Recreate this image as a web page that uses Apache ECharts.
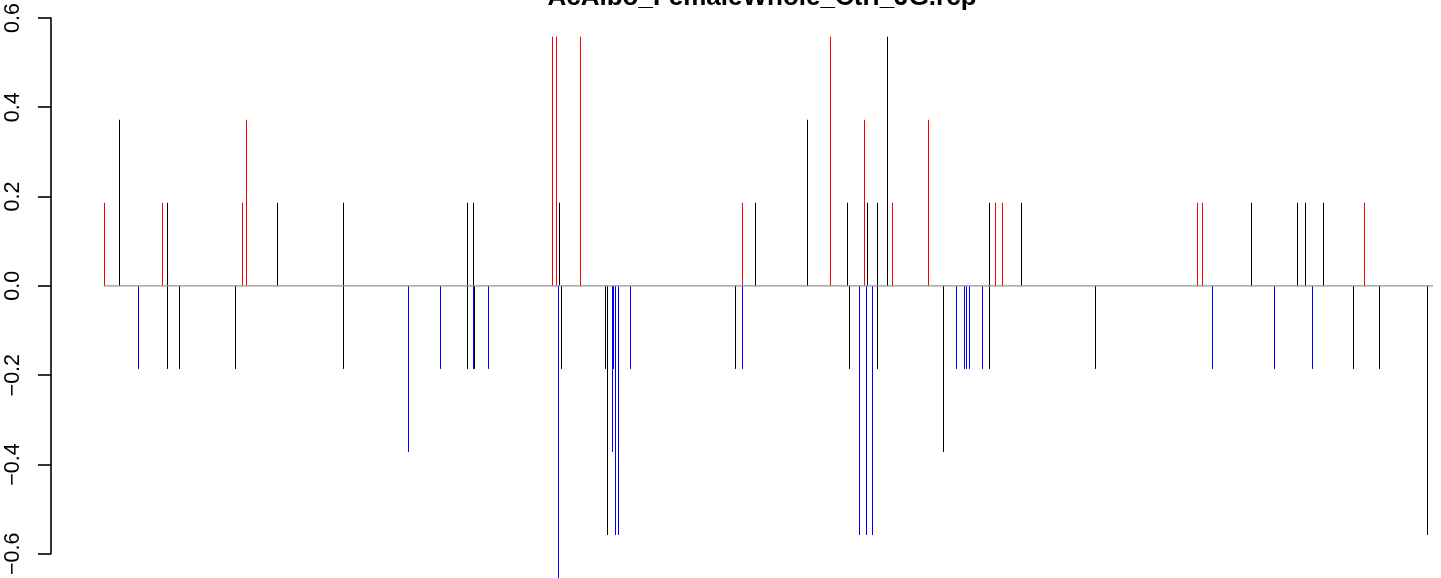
<!DOCTYPE html>
<html>
<head>
<meta charset="utf-8">
<script src="https://cdn.jsdelivr.net/npm/echarts@6/dist/echarts.min.js"></script>
<style>
html,body{margin:0;padding:0;background:#ffffff;}
#chart{width:1441px;height:578px;}
</style>
</head>
<body>
<div id="chart"></div>
<script>
// ---- data ----
const titleText = 'AcAlbo_FemaleWhole_Ctrl_JG.rcp';
const yTickValues = [-0.6, -0.4, -0.2, 0, 0.2, 0.4, 0.6];
const yTickLabels = ['\u22120.6', '\u22120.4', '\u22120.2', '0.0', '0.2', '0.4', '0.6'];

// positions along the sequence (plot units) and heights
const redX = [53.3, 111.3, 191.3, 195.3, 501.3, 504.7, 529.3, 691.3, 779.3, 813.3, 841.3, 877.3, 944.3, 951.3, 1146.3, 1151.3, 1313.3];
const redY = [0.186, 0.186, 0.186, 0.372, 0.558, 0.558, 0.558, 0.186, 0.558, 0.372, 0.186, 0.372, 0.186, 0.186, 0.186, 0.186, 0.186];

const blackUpX = [68.3, 116.3, 226.3, 292.3, 416.3, 422.3, 508.3, 704.3, 756.3, 796.3, 816.3, 826.3, 836.3, 938.3, 970.3, 1200.3, 1246.3, 1254.3, 1272.3];
const blackUpY = [0.372, 0.186, 0.186, 0.186, 0.186, 0.186, 0.186, 0.186, 0.372, 0.186, 0.186, 0.186, 0.558, 0.186, 0.186, 0.186, 0.186, 0.186, 0.186];

const blackDownX = [116.3, 128.3, 184.3, 292.3, 416.3, 423.3, 510.3, 554.3, 556.3, 684.3, 798.3, 826.3, 892.3, 938.3, 1044.3, 1302.3, 1328.3, 1376.3];
const blackDownY = [-0.186, -0.186, -0.186, -0.186, -0.186, -0.186, -0.186, -0.186, -0.558, -0.186, -0.186, -0.186, -0.372, -0.186, -0.186, -0.186, -0.186, -0.558];

const blueX = [87.3, 357.3, 389.3, 422.3, 437.3, 507.3, 561.3, 562.3, 564.3, 567.3, 579.3, 691.3, 808.3, 815.3, 821.3, 905.3, 913.3, 915.3, 918.3, 931.3, 1161.3, 1223.3, 1261.3];
const blueY = [-0.186, -0.372, -0.186, -0.186, -0.186, -0.744, -0.372, -0.186, -0.558, -0.558, -0.186, -0.186, -0.558, -0.558, -0.558, -0.186, -0.186, -0.186, -0.186, -0.186, -0.186, -0.186, -0.186];

const baselineX = [53, 1382];

// ---- chart ----
function pairs(xs, ys) { return xs.map((x, i) => [x, ys[i]]); }

function spike(color) {
  return function (params, api) {
    const x = api.value(0), y = api.value(1);
    const p0 = api.coord([x, 0]);
    const p1 = api.coord([x, y]);
    const px = Math.round(p0[0]) + 0.5;
    return {
      type: 'line',
      shape: { x1: px, y1: p0[1], x2: px, y2: p1[1] },
      style: { stroke: color, lineWidth: 1 },
      silent: true
    };
  };
}

function spikeSeries(name, xs, ys, color) {
  return {
    name: name,
    type: 'custom',
    clip: false,
    silent: true,
    animation: false,
    renderItem: spike(color),
    encode: { x: 0, y: 1 },
    data: pairs(xs, ys),
    z: 2
  };
}

const chart = echarts.init(document.getElementById('chart'), null, { renderer: 'canvas' });

chart.setOption({
  animation: false,
  backgroundColor: '#ffffff',
  title: {
    text: titleText,
    left: 762,
    top: -15,
    textAlign: 'center',
    padding: 0,
    textStyle: {
      fontFamily: 'Liberation Sans',
      fontWeight: 'bold',
      fontSize: 26,
      color: '#000000'
    }
  },
  grid: { left: 51, right: 0, top: 14, bottom: 15.3, containLabel: false },
  xAxis: {
    type: 'value',
    min: 0,
    max: 1390,
    show: false
  },
  yAxis: {
    type: 'value',
    min: -0.6,
    max: 0.6,
    interval: 0.2,
    splitLine: { show: false },
    axisLine: { show: true, lineStyle: { color: '#000000', width: 1.6 } },
    axisTick: { show: true, inside: false, length: 13, lineStyle: { color: '#000000', width: 1.6 } },
    axisLabel: {
      rotate: 90,
      margin: 27,
      fontFamily: 'Liberation Sans',
      fontSize: 21.5,
      color: '#000000',
      formatter: function (v) {
        let best = 0;
        for (let i = 1; i < yTickValues.length; i++) {
          if (Math.abs(yTickValues[i] - v) < Math.abs(yTickValues[best] - v)) best = i;
        }
        return yTickLabels[best];
      }
    }
  },
  series: [
    spikeSeries('red', redX, redY, '#ff0000'),
    spikeSeries('blackUp', blackUpX, blackUpY, '#000000'),
    spikeSeries('blackDown', blackDownX, blackDownY, '#000000'),
    spikeSeries('blue', blueX, blueY, '#0000ff'),
    {
      name: 'baseline',
      type: 'line',
      silent: true,
      animation: false,
      symbol: 'none',
      data: baselineX.map(x => [x, 0]),
      lineStyle: { color: '#959595', width: 1.3 },
      z: 3
    }
  ]
});
</script>
</body>
</html>
